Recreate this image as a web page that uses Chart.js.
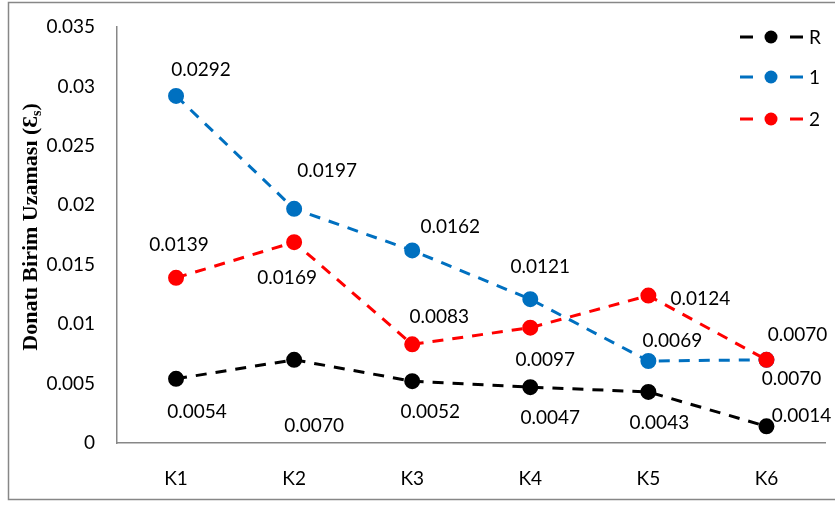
<!DOCTYPE html>
<html>
<head>
<meta charset="utf-8">
<script src="https://cdn.jsdelivr.net/npm/chart.js@4/dist/chart.umd.min.js"></script>
<style>
  html, body { margin: 0; padding: 0; background: #fff; }
  #wrap { width: 835px; height: 506px; position: relative; }
</style>
</head>
<body>
<div id="wrap"><canvas id="c" width="835" height="506"></canvas></div>
<script>
// Categories and measured strain values
const categories = ['K1', 'K2', 'K3', 'K4', 'K5', 'K6'];
const seriesR = [0.0054, 0.0070, 0.0052, 0.0047, 0.0043, 0.0014];
const series1 = [0.0292, 0.0197, 0.0162, 0.0121, 0.0069, 0.0070];
const series2 = [0.0139, 0.0169, 0.0083, 0.0097, 0.0124, 0.0070];
const seriesNames = ['R', '1', '2'];
const yTickLabels = ['0', '0.005', '0.01', '0.015', '0.02', '0.025', '0.03', '0.035'];

// Placement of each value label relative to its point (centre offset, px)
const labelShiftR = [[21, 33], [20, 66], [18, 31], [20, 31], [11, 31], [35, -10]];
const labelShift1 = [[25, -26], [33, -38], [38, -24], [10, -32], [24, -20], [31, -25]];
const labelShift2 = [[3, -33], [-7, 36], [27, -27], [15, 32], [52, 3], [25, 19]];

const FONT = 'Lato, "Open Sans", sans-serif';
const AXIS_GREY = '#878787';

const fmt = v => v.toFixed(4);

const datasets = [
  { label: seriesNames[0], data: seriesR, color: '#000000', shifts: labelShiftR, order: 2 },
  { label: seriesNames[1], data: series1, color: '#0070C0', shifts: labelShift1, order: 1 },
  { label: seriesNames[2], data: series2, color: '#FF0000', shifts: labelShift2, order: 0 }
].map(d => ({
  label: d.label,
  data: d.data,
  order: d.order,
  borderColor: d.color,
  backgroundColor: d.color,
  pointBackgroundColor: d.color,
  pointBorderColor: d.color,
  borderWidth: 3,
  borderDash: [11, 9],
  borderCapStyle: 'butt',
  pointRadius: 6.5,
  pointHoverRadius: 6.5,
  tension: 0,
  fill: false,
  shifts: d.shifts
}));

const decor = {
  id: 'decor',
  beforeDraw(chart) {
    const ctx = chart.ctx;
    ctx.save();
    ctx.fillStyle = '#fff';
    ctx.fillRect(0, 0, chart.width, chart.height);
    ctx.strokeStyle = AXIS_GREY;
    ctx.lineWidth = 1.5;
    ctx.strokeRect(8.5, 2.5, chart.width + 10, 497);
    ctx.restore();
  },
  afterDatasetsDraw(chart) {
    const ctx = chart.ctx;
    ctx.save();
    // value labels
    ctx.font = '19px ' + FONT;
    ctx.fillStyle = '#000';
    ctx.textAlign = 'center';
    ctx.textBaseline = 'middle';
    chart.data.datasets.forEach((ds, i) => {
      const meta = chart.getDatasetMeta(i);
      meta.data.forEach((pt, j) => {
        const s = ds.shifts[j];
        ctx.fillText(fmt(ds.data[j]), pt.x + s[0], pt.y + s[1]);
      });
    });

    // legend: dash - marker - dash, then name
    const legendY = [37, 77, 119];
    chart.data.datasets.forEach((ds, i) => {
      const y = legendY[i];
      ctx.strokeStyle = ds.borderColor;
      ctx.lineWidth = 3;
      ctx.setLineDash([]);
      ctx.beginPath();
      ctx.moveTo(740, y); ctx.lineTo(753, y);
      ctx.moveTo(790, y); ctx.lineTo(803, y);
      ctx.stroke();
      ctx.fillStyle = ds.borderColor;
      ctx.beginPath();
      ctx.arc(771, y, 6.5, 0, Math.PI * 2);
      ctx.fill();
      ctx.fillStyle = '#000';
      ctx.textAlign = 'left';
      ctx.font = '19px ' + FONT;
      ctx.fillText(ds.label, 809, y + 1);
    });

    // vertical axis title with subscript
    const main = 'Donatı Birim Uzaması (Ɛ';
    const sub = 's';
    const tail = ')';
    ctx.translate(31, 227);
    ctx.rotate(-Math.PI / 2);
    ctx.fillStyle = '#000';
    ctx.textBaseline = 'middle';
    const fMain = 'bold 22px "Liberation Serif", "Times New Roman", serif';
    const fSub = 'bold 14px "Liberation Serif", "Times New Roman", serif';
    ctx.font = fMain;
    const wMain = ctx.measureText(main).width;
    const wTail = ctx.measureText(tail).width;
    ctx.font = fSub;
    const wSub = ctx.measureText(sub).width;
    let x = -(wMain + wSub + wTail) / 2;
    ctx.textAlign = 'left';
    ctx.font = fMain;
    ctx.fillText(main, x, 0);
    x += wMain;
    ctx.font = fSub;
    ctx.fillText(sub, x, 6);
    x += wSub;
    ctx.font = fMain;
    ctx.fillText(tail, x, 0);
    ctx.restore();
  }
};

new Chart(document.getElementById('c'), {
  type: 'line',
  data: { labels: categories, datasets },
  options: {
    responsive: false,
    animation: false,
    devicePixelRatio: 1,
    layout: { padding: { top: 27, right: 9, left: 0, bottom: 0 } },
    plugins: {
      legend: { display: false },
      tooltip: { enabled: false }
    },
    scales: {
      x: {
        offset: true,
        grid: { display: false, drawTicks: false },
        border: { display: true, color: AXIS_GREY, width: 1.5 },
        ticks: { color: '#000', font: { family: FONT, size: 19 }, padding: 24 },
        afterFit(s) { s.height = 63; }
      },
      y: {
        min: 0,
        max: 0.035,
        grid: { display: false, drawTicks: false },
        border: { display: true, color: AXIS_GREY, width: 1.5 },
        ticks: {
          stepSize: 0.005,
          color: '#000',
          font: { family: FONT, size: 19 },
          padding: 22,
          callback: (v, i) => yTickLabels[i]
        },
        afterFit(s) { s.width = 117; s.paddingTop = 0; s.paddingBottom = 0; }
      }
    }
  },
  plugins: [decor]
});
</script>
</body>
</html>
